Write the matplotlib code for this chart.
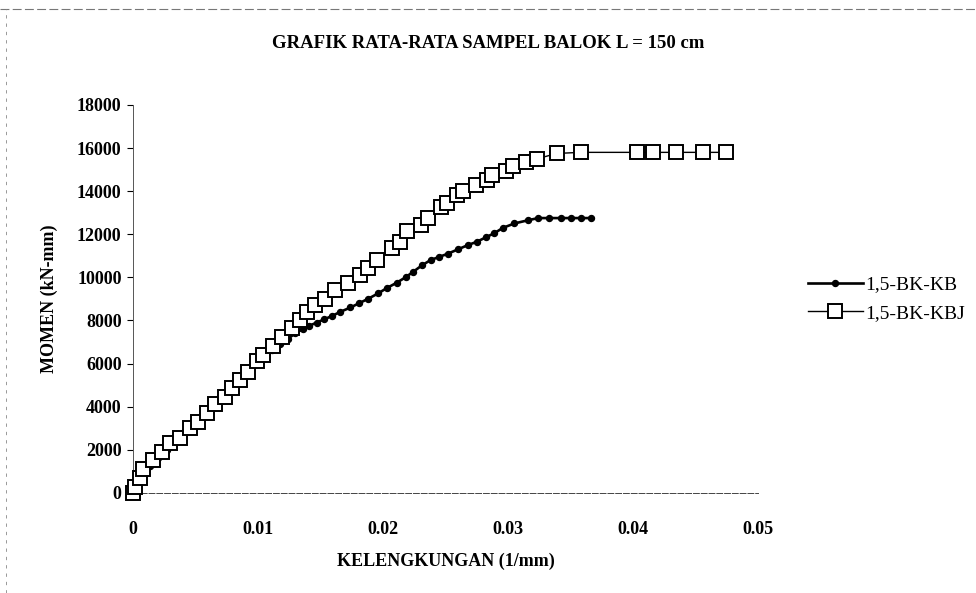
import matplotlib
matplotlib.use("Agg")
import matplotlib.pyplot as plt
from matplotlib.lines import Line2D

# curvature (1/mm) and moment (kN-mm)
kb_x = [0, 0.0002, 0.0004, 0.0008, 0.0014, 0.0020, 0.0027, 0.0034, 0.0041, 0.0048,
        0.0055, 0.0062, 0.0069, 0.0076, 0.0083, 0.0090, 0.0097, 0.0104, 0.0111, 0.0118,
        0.0124, 0.0130, 0.0136, 0.0141, 0.0147, 0.0153, 0.0159, 0.0166, 0.0174, 0.0181,
        0.0188, 0.0196, 0.0203, 0.0211, 0.0218, 0.0224, 0.0231, 0.0238, 0.0245, 0.0252,
        0.0260, 0.0268, 0.0275, 0.0282, 0.0289, 0.0296, 0.0305, 0.0316, 0.0324, 0.0333,
        0.0342, 0.0350, 0.0358, 0.0366]
kb_y = [0, 400, 700, 900, 1250, 1600, 2000, 2400, 2800, 3200,
        3600, 4000, 4400, 4850, 5250, 5650, 6000, 6350, 6650, 6900,
        7150, 7400, 7600, 7750, 7900, 8050, 8200, 8400, 8600, 8800,
        9000, 9250, 9500, 9750, 10000, 10250, 10550, 10800, 10950, 11100,
        11300, 11500, 11650, 11850, 12050, 12300, 12500, 12650, 12750, 12750,
        12750, 12750, 12750, 12750]

kbj_x = [0, 0.0002, 0.0006, 0.0008, 0.0016, 0.0023, 0.0030, 0.0038, 0.0046, 0.0052,
         0.0059, 0.0066, 0.0074, 0.0079, 0.0086, 0.0092, 0.0099, 0.0104, 0.0112, 0.0119,
         0.0127, 0.0134, 0.0139, 0.0146, 0.0154, 0.0162, 0.0172, 0.0182, 0.0188, 0.0195,
         0.0207, 0.0214, 0.0219, 0.0230, 0.0236, 0.0246, 0.0251, 0.0259, 0.0264, 0.0274,
         0.0283, 0.0287, 0.0298, 0.0304, 0.0314, 0.0323, 0.0339, 0.0358, 0.0403, 0.0416,
         0.0434, 0.0456, 0.0474]
kbj_y = [0, 280, 700, 1100, 1500, 1900, 2300, 2550, 3000, 3300,
         3700, 4100, 4450, 4850, 5250, 5600, 6100, 6400, 6800, 7250,
         7650, 8000, 8400, 8700, 9000, 9400, 9750, 10100, 10450, 10800,
         11350, 11650, 12150, 12450, 12750, 13250, 13450, 13800, 14000, 14300,
         14500, 14750, 14950, 15150, 15350, 15500, 15750, 15800, 15800, 15800,
         15800, 15800, 15800]

x_ticks = [0, 0.01, 0.02, 0.03, 0.04, 0.05]
x_labels = ["0", "0.01", "0.02", "0.03", "0.04", "0.05"]
y_ticks = [0, 2000, 4000, 6000, 8000, 10000, 12000, 14000, 16000, 18000]

plt.rcParams['font.family'] = ['Liberation Serif', 'DejaVu Serif']

fig = plt.figure(figsize=(9.76, 5.93), dpi=100)
ax = fig.add_axes([0.136, 0.169, 0.641, 0.654])

ax.plot(kb_x, kb_y, color='black', lw=1.9, marker='o', ms=4.3,
        clip_on=False, zorder=3, label='1,5-BK-KB')
ax.plot(kbj_x, kbj_y, color='black', lw=1.0, marker='s', ms=9.5,
        mfc='white', mec='black', mew=1.4, clip_on=False, zorder=3,
        label='1,5-BK-KBJ')

ax.set_xlim(0, 0.05)
ax.set_ylim(0, 18000)
ax.set_xticks(x_ticks)
ax.set_xticklabels(x_labels)
ax.set_yticks(y_ticks)
ax.tick_params(axis='x', length=0, pad=20, labelsize=13)
ax.tick_params(axis='y', length=4, width=0.8, pad=4, labelsize=13)
for lab in ax.get_xticklabels() + ax.get_yticklabels():
    lab.set_fontweight('bold')

for s in ['top', 'right']:
    ax.spines[s].set_visible(False)
ax.spines['left'].set_linestyle((0, (3, 1)))
ax.spines['left'].set_linewidth(0.7)
ax.spines['left'].set_color('#555555')
ax.spines['bottom'].set_linestyle((0, (6, 2)))
ax.spines['bottom'].set_linewidth(0.7)
ax.spines['bottom'].set_color('#444444')

ax.set_xlabel('KELENGKUNGAN (1/mm)', fontsize=13, fontweight='bold', labelpad=11)
ax.set_ylabel('MOMEN (kN-mm)', fontsize=13, fontweight='bold', labelpad=14)

fig.text(0.50, 0.927, 'GRAFIK RATA-RATA SAMPEL BALOK L = 150 cm',
         ha='center', va='center', fontsize=13.5, fontweight='bold')

fig.legend(loc='center left', bbox_to_anchor=(0.81, 0.496), frameon=False,
           fontsize=14, handlelength=2.8, labelspacing=0.55, handletextpad=0.15)

# faint frame edges left by the scan
fig.add_artist(Line2D([0.0, 1.0], [0.985, 0.985], transform=fig.transFigure,
                      color='#777777', lw=0.8, ls=(0, (8, 3))))
fig.add_artist(Line2D([0.006, 0.006], [0.0, 0.985], transform=fig.transFigure,
                      color='#888888', lw=0.6, ls=(0, (4, 6))))

fig.savefig('out.png', dpi=100)
